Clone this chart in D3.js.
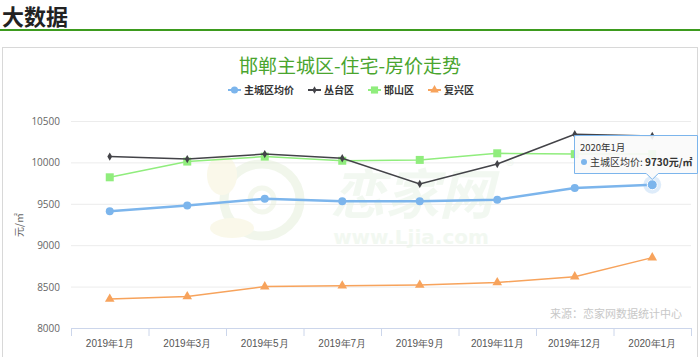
<!DOCTYPE html>
<html>
<head>
<meta charset="utf-8">
<script src="https://cdn.jsdelivr.net/npm/d3@7"></script>
<style>
	body { margin: 0; background: #fff; }
	svg { display: block; font-family: "Noto Sans CJK SC", "Noto Sans", sans-serif; }
</style>
</head>
<body>
<svg id="chart" width="700" height="357"></svg>
<script>
'use strict';

// months on the x axis
var months = ['2019年1月', '2019年3月', '2019年5月', '2019年7月', '2019年9月', '2019年11月', '2019年12月', '2020年1月'];

// prices per district, yuan per square metre
var mainCity = [9410, 9480, 9560, 9530, 9530, 9550, 9690, 9730];
var congtai = [10070, 10040, 10100, 10050, 9740, 9980, 10340, 10320];
var hanshan = [9820, 10010, 10070, 10020, 10030, 10110, 10100, 10100];
var fuxing = [8350, 8380, 8500, 8510, 8520, 8550, 8620, 8850];

var yTicks = [8000, 8500, 9000, 9500, 10000, 10500];

var series = [
	{ name: '主城区均价', values: mainCity, color: '#7cb5ec', symbol: d3.symbolCircle, size: 50, width: 2.5 },
	{ name: '丛台区', values: congtai, color: '#434348', symbol: d3.symbolDiamond, size: 20, width: 1.5 },
	{ name: '邯山区', values: hanshan, color: '#90ed7d', symbol: d3.symbolSquare, size: 64, width: 1.5 },
	{ name: '复兴区', values: fuxing, color: '#f7a35c', symbol: d3.symbolTriangle, size: 40, width: 1.5 }
];

var svg = d3.select('#chart');

// page header
svg.append('text')
	.attr('x', 2).attr('y', 25)
	.attr('font-size', 22).attr('font-weight', 'bold').attr('fill', '#222')
	.text('大数据');
svg.append('rect').attr('x', 0).attr('y', 29).attr('width', 700).attr('height', 2).attr('fill', '#3d9b1e');

// chart box
svg.append('rect')
	.attr('x', 2.5).attr('y', 47.5).attr('width', 695).attr('height', 320)
	.attr('fill', 'none').attr('stroke', '#d8d8d8');

svg.append('text')
	.attr('x', 350).attr('y', 73)
	.attr('text-anchor', 'middle')
	.attr('font-size', 19).attr('fill', '#4aa52e')
	.text('邯郸主城区-住宅-房价走势');

var x = d3.scaleBand().domain(months).range([71, 691]).padding(0);
var y = d3.scaleLinear().domain([8000, 10500]).range([328, 121]);
var cx = function (m) { return x(m) + x.bandwidth() / 2; };

// grid
svg.append('g').selectAll('line').data(yTicks.slice(1)).join('line')
	.attr('x1', 71).attr('x2', 691)
	.attr('y1', function (d) { return y(d) + 0.5; }).attr('y2', function (d) { return y(d) + 0.5; })
	.attr('stroke', '#ececec');

// watermark
var wm = svg.append('g').attr('opacity', 0.5);
wm.append('ellipse').attr('cx', 262).attr('cy', 200).attr('rx', 38).attr('ry', 36)
	.attr('fill', 'none').attr('stroke', '#e4efd8').attr('stroke-width', 9);
wm.append('circle').attr('cx', 262).attr('cy', 200).attr('r', 12)
	.attr('fill', 'none').attr('stroke', '#e8f0dc').attr('stroke-width', 5);
wm.append('ellipse').attr('cx', 222).attr('cy', 175).attr('rx', 15).attr('ry', 20).attr('fill', '#f7f3d6');
wm.append('ellipse').attr('cx', 232).attr('cy', 228).attr('rx', 22).attr('ry', 10).attr('fill', '#f7f3d6');
wm.append('text').attr('x', 412).attr('y', 214).attr('text-anchor', 'middle')
	.attr('font-size', 54).attr('font-weight', 'bold').attr('font-style', 'italic').attr('fill', '#e6f3e4')
	.text('恋家网');
wm.append('text').attr('x', 411).attr('y', 244).attr('text-anchor', 'middle')
	.attr('font-size', 20).attr('font-weight', 'bold').attr('fill', '#e6f3e4').attr('font-family', 'Verdana, DejaVu Sans')
	.text('www.Ljia.com');
wm.append('text').attr('x', 510).attr('y', 172).attr('text-anchor', 'middle')
	.attr('font-size', 16).attr('fill', '#e6f3e4').text('®');

// y axis
var yAxis = d3.axisLeft(y).tickValues(yTicks).tickFormat(d3.format('d')).tickSize(0).tickPadding(0);
var gy = svg.append('g').attr('transform', 'translate(60,0)').call(yAxis);
gy.select('.domain').remove();
gy.selectAll('text').attr('font-size', 10).attr('fill', '#666').attr('dy', '0.35em')
	.attr('font-family', '"Open Sans", "DejaVu Sans", sans-serif');

svg.append('text')
	.attr('transform', 'translate(23,225) rotate(-90)')
	.attr('text-anchor', 'middle').attr('font-size', 10).attr('fill', '#666')
	.text('元/㎡');

// x axis
var xAxis = d3.axisBottom(x).tickSize(0).tickPadding(12);
var gx = svg.append('g').attr('transform', 'translate(0,328)').call(xAxis);
gx.select('.domain').attr('stroke', '#ccd6eb').attr('d', 'M71,0.5H691');
gx.selectAll('text').attr('font-size', 10).attr('fill', '#555');
gx.selectAll('.edge').data(d3.range(months.length + 1)).join('line')
	.attr('class', 'edge')
	.attr('x1', function (i) { return 71 + i * x.bandwidth() + 0.5; })
	.attr('x2', function (i) { return 71 + i * x.bandwidth() + 0.5; })
	.attr('y1', 0).attr('y2', 8).attr('stroke', '#ccd6eb');

// source note
svg.append('text')
	.attr('x', 682).attr('y', 318).attr('text-anchor', 'end')
	.attr('font-size', 11).attr('fill', '#c8c8c8')
	.text('来源：恋家网数据统计中心');

// lines and markers
var line = d3.line()
	.x(function (d, i) { return cx(months[i]); })
	.y(function (d) { return y(d); });

// draw the lower ones first so the main series sits on top
[3, 2, 1, 0].forEach(function (k) {
	var s = series[k];
	var g = svg.append('g');
	g.append('path').datum(s.values)
		.attr('d', line).attr('fill', 'none')
		.attr('stroke', s.color).attr('stroke-width', s.width);
	g.selectAll('path.pt').data(s.values).join('path')
		.attr('class', 'pt')
		.attr('transform', function (d, i) { return 'translate(' + cx(months[i]) + ',' + y(d) + ')'; })
		.attr('d', d3.symbol().type(s.symbol).size(s.size))
		.attr('fill', s.color);
});

// legend
var legendX = [228, 308, 368, 428];
var lg = svg.append('g');
series.forEach(function (s, k) {
	var item = lg.append('g').attr('transform', 'translate(' + legendX[k] + ',90)');
	item.append('line').attr('x1', 0).attr('x2', 13).attr('y1', 0).attr('y2', 0)
		.attr('stroke', s.color).attr('stroke-width', 2);
	item.append('path').attr('transform', 'translate(6.5,0)')
		.attr('d', d3.symbol().type(s.symbol).size(s.size * 0.8)).attr('fill', s.color);
	item.append('text').attr('x', 16).attr('y', 4)
		.attr('font-size', 10).attr('font-weight', 'bold').attr('fill', '#333')
		.text(s.name);
});

// hovered point and tooltip
var last = months.length - 1;
var hx = cx(months[last]), hy = y(mainCity[last]);
svg.append('circle').attr('cx', hx).attr('cy', hy).attr('r', 9)
	.attr('fill', '#7cb5ec').attr('opacity', 0.25);
svg.append('circle').attr('cx', hx).attr('cy', hy).attr('r', 5)
	.attr('fill', '#7cb5ec').attr('stroke', '#fff').attr('stroke-width', 1);

var tx0 = 574.5, tx1 = 697.5, ty0 = 135.5, ty1 = 173.5;
var tip = svg.append('g');
tip.append('path')
	.attr('d', 'M' + tx0 + ',' + ty0 + 'H' + tx1 + 'V' + ty1 + 'H' + (hx + 6) + 'L' + hx + ',' + (ty1 + 6) +
		'L' + (hx - 6) + ',' + ty1 + 'H' + tx0 + 'Z')
	.attr('fill', 'rgba(250,250,250,0.92)').attr('stroke', '#7cb5ec');
tip.append('text').attr('x', 580).attr('y', 151).attr('font-size', 9.5).attr('fill', '#333').text('2020年1月');
tip.append('circle').attr('cx', 584).attr('cy', 162).attr('r', 3).attr('fill', '#7cb5ec');
var t2 = tip.append('text').attr('x', 590).attr('y', 166).attr('font-size', 10).attr('fill', '#333');
t2.append('tspan').text('主城区均价: ');
t2.append('tspan').attr('font-weight', 'bold').text(mainCity[last] + '元/㎡');
</script>
</body>
</html>
